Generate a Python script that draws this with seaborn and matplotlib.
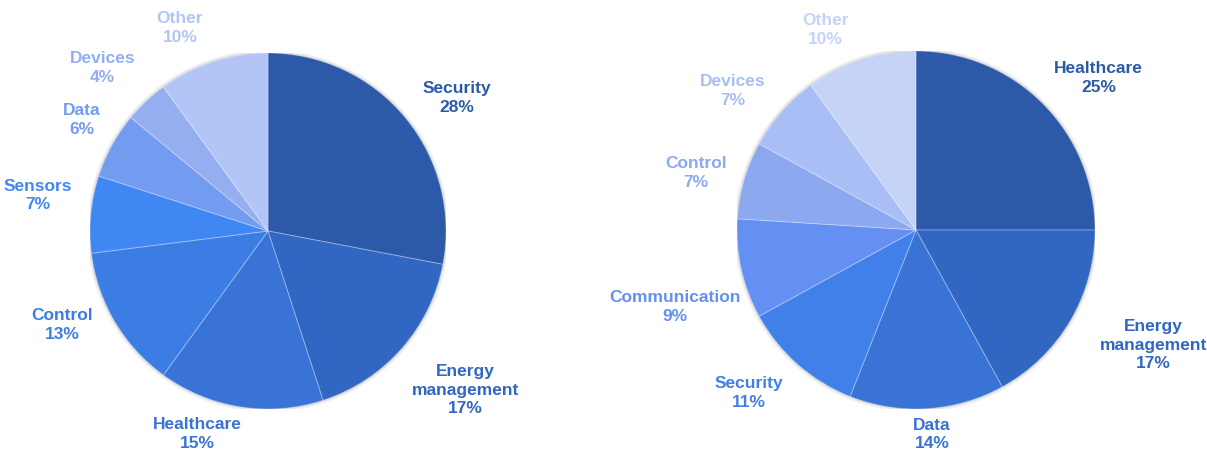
import numpy as np
import matplotlib
matplotlib.use("Agg")
import matplotlib.pyplot as plt
from matplotlib.patches import Circle
import seaborn as sns

# Market share by application, two segments
left_labels = ["Security", "Energy\nmanagement", "Healthcare", "Control",
               "Sensors", "Data", "Devices", "Other"]
left_values = [28, 17, 15, 13, 7, 6, 4, 10]
left_colors = ["#2C5AA8", "#3167C3", "#3873D5", "#3C7DE4",
               "#4187F4", "#739BF0", "#95AEF0", "#B3C5F7"]

right_labels = ["Healthcare", "Energy\nmanagement", "Data", "Security",
                "Communication", "Control", "Devices", "Other"]
right_values = [25, 17, 14, 11, 9, 7, 7, 10]
right_colors = ["#2C5AA8", "#3167C3", "#3873D5", "#4080E8",
                "#6390F2", "#8CA9F0", "#A9BEF4", "#C5D3F7"]

# label placement: (radial distance, angular nudge in degrees) per slice
left_label_pos = [(1.30, -4.1), (1.42, 2.7), (1.20, -10.2), (1.27, -6.3),
                  (1.31, -3.6), (1.22, -2.2), (1.31, 2.0), (1.25, 5.3)]
right_label_pos = [(1.33, -5.1), (1.47, 4.9), (1.14, 0.9), (1.30, -4.6),
                   (1.41, 5.0), (1.27, 1.4), (1.29, 4.0), (1.23, 6.2)]

sns.set_theme(style="white")
plt.rcParams["font.family"] = ["Liberation Sans", "DejaVu Sans"]

W, H = 1207, 456
fig = plt.figure(figsize=(W / 100, H / 100), dpi=100)
fig.patch.set_facecolor("white")


def draw_pie(cx, cy, R, labels, values, colors, label_pos):
    ax = fig.add_axes([(cx - R) / W, (H - cy - R) / H, 2 * R / W, 2 * R / H])
    pal = sns.color_palette(colors)
    # soft shadow around the disc
    for lw, a in [(5, 0.035), (3, 0.05), (1.5, 0.07)]:
        ax.add_patch(Circle((0, 0), 1.0, fill=False, edgecolor="#000000",
                            linewidth=lw, alpha=a, zorder=0))
    wedges, _ = ax.pie(values, colors=pal, startangle=90, counterclock=False,
                       radius=1.0,
                       wedgeprops=dict(edgecolor=(1, 1, 1, 0.25), linewidth=0.8))
    total = sum(values)
    for w, lab, val, col, (dist, nudge) in zip(wedges, labels, values,
                                               colors, label_pos):
        ang = np.deg2rad((w.theta1 + w.theta2) / 2 + nudge)
        ax.text(dist * np.cos(ang), dist * np.sin(ang),
                f"{lab}\n{round(100 * val / total)}%",
                ha="center", va="center", color=col, fontsize=12.5,
                fontweight="bold", linespacing=1.32, clip_on=False)
    ax.set_xlim(-1, 1)
    ax.set_ylim(-1, 1)
    ax.set_aspect("equal")
    ax.axis("off")


draw_pie(268, 232, 178, left_labels, left_values, left_colors, left_label_pos)
draw_pie(916, 231, 179, right_labels, right_values, right_colors,
         right_label_pos)

fig.savefig("out.png", dpi=100, facecolor="white")
